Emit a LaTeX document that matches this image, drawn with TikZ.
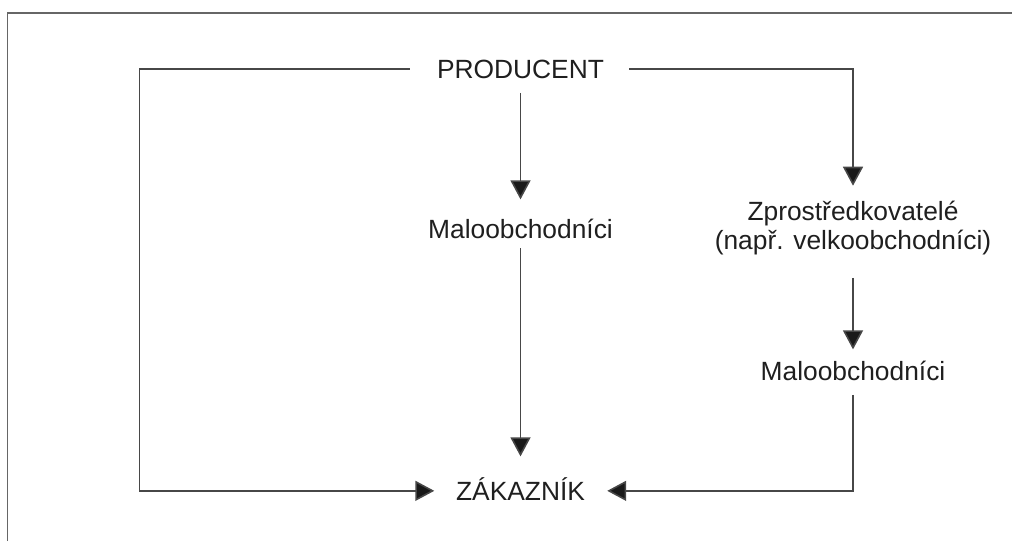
\documentclass[tikz,border=0pt]{standalone}
\usepackage{fontspec}
\setmainfont{Liberation Sans}
\usetikzlibrary{arrows.meta}
\tikzset{
  stage/.style={
    font=\fontsize{15}{16}\selectfont, text=black!88, inner sep=0pt,
    text height=11pt, text depth=0pt, anchor=base
  },
  stage two/.style={
    font=\fontsize{15}{16}\selectfont, text=black!88, inner sep=0pt,
    align=center
  },
  flow/.style={
    draw=black!72, line width=0.9pt,
    -{Triangle[length=0.38cm,width=0.4cm,fill=black!90]}
  },
  plain flow/.style={
    draw=black!72, line width=0.9pt
  }
}

\begin{document}
\begin{tikzpicture}[line width=0.9pt]

\useasboundingbox (0,0) rectangle (20.24,10.82);

% ---------------------------
% frame
% ---------------------------
\draw[black!60, line width=1pt] (0.15,0) -- (0.15,10.56) -- (20.24,10.56);

% ---------------------------
% nodes
% ---------------------------
\node[stage] (P) at (10.41,9.25) {PRODUCENT};
\node[stage] (M1) at (10.41,6.04) {Maloobchodníci};
\node[stage] (Z) at (10.41,0.81) {ZÁKAZNÍK};
\node[stage two] (S) at (17.06,6.26) {Zprostředkovatelé\\(např. velkoobchodníci)};
\node[stage] (M2) at (17.06,3.22) {Maloobchodníci};

\coordinate (LC) at (2.79,0);

% ---------------------------
% connectors
% ---------------------------
\draw[flow, shorten <=0.27cm, shorten >=0.39cm] (P.south) -- (M1.north);
\draw[flow, shorten <=0.17cm, shorten >=0.48cm] (M1.south) -- (Z.north);

\draw[flow, shorten <=0.53cm, shorten >=0.42cm] (P.west) -| (LC |- Z.west) -- (Z.west);
\draw[flow, shorten <=0.49cm, shorten >=0.3cm] (P.east) -| (S.north);
\draw[flow, shorten <=0.45cm, shorten >=0.21cm] (S.south) -- (M2.north);
\draw[flow, shorten <=0.28cm, shorten >=0.43cm] (M2.south) |- (Z.east);

\end{tikzpicture}
\end{document}
